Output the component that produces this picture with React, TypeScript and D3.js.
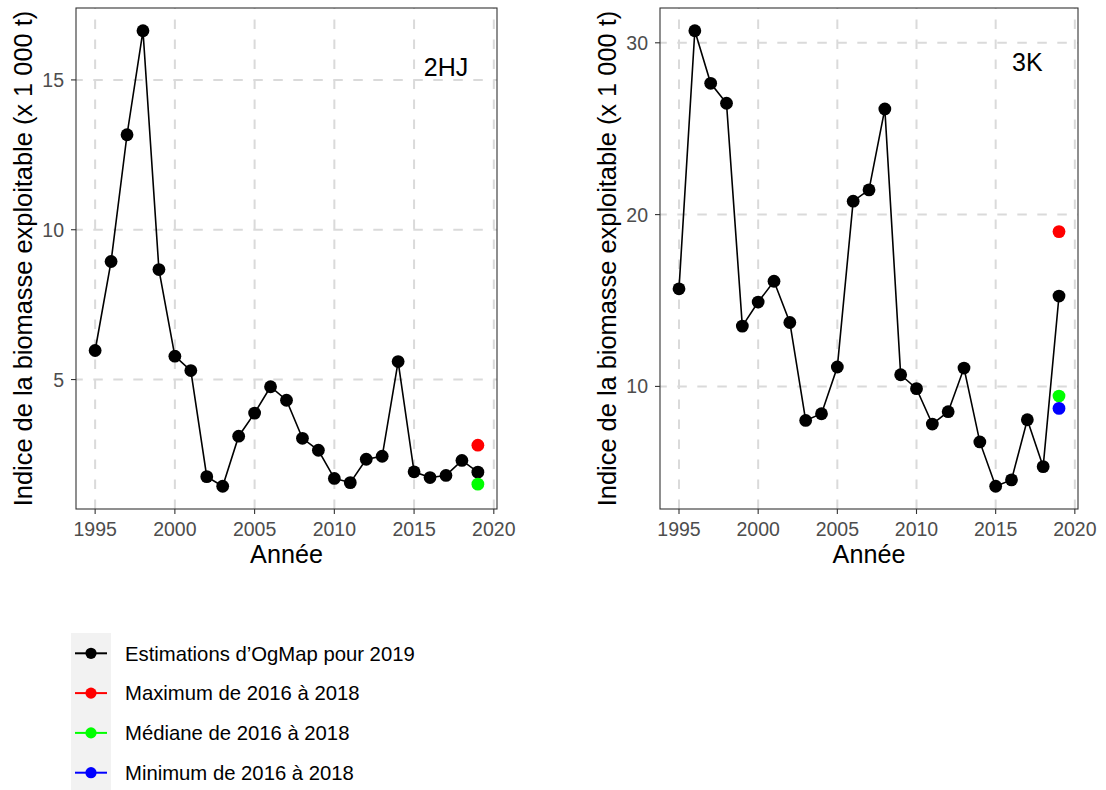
import React from "react";
import * as d3 from "d3";

const years = [1995, 1996, 1997, 1998, 1999, 2000, 2001, 2002, 2003, 2004, 2005, 2006, 2007, 2008, 2009, 2010, 2011, 2012, 2013, 2014, 2015, 2016, 2017, 2018, 2019];

const values2HJ = [5.97, 8.94, 13.17, 16.64, 8.67, 5.78, 5.30, 1.76, 1.44, 3.11, 3.88, 4.76, 4.31, 3.04, 2.64, 1.70, 1.56, 2.34, 2.44, 5.60, 1.92, 1.73, 1.80, 2.30, 1.91];
const values3K = [15.68, 30.70, 27.64, 26.48, 13.51, 14.91, 16.12, 13.72, 8.02, 8.41, 11.13, 20.78, 21.44, 26.15, 10.68, 9.87, 7.81, 8.53, 11.07, 6.77, 4.19, 4.56, 8.06, 5.33, 15.26];

// reference points for 2019: [max, median, min]
const refYear = 2019;
const ref2HJ = [2.81, 1.51, null];
const ref3K = [19.01, 9.44, 8.72];

const refColors = ["#FF0000", "#00FF00", "#0000FF"];
const legendLabels = [
  "Estimations d\u2019OgMap pour 2019",
  "Maximum de 2016 à 2018",
  "Médiane de 2016 à 2018",
  "Minimum de 2016 à 2018",
];
const legendColors = ["#000000", "#FF0000", "#00FF00", "#0000FF"];

const xTicks = [1995, 2000, 2005, 2010, 2015, 2020];
const yTicks2HJ = [5, 10, 15];
const yTicks3K = [10, 20, 30];

const panelLabels = ["2HJ", "3K"];
const labelPos2HJ = { year: 2017, value: 15.43 };
const labelPos3K = { year: 2017, value: 28.9 };

const FONT = "'Liberation Sans', Arial, sans-serif";

function expandDomain(vals: number[]): [number, number] {
  const mn = d3.min(vals) as number;
  const mx = d3.max(vals) as number;
  const e = (mx - mn) * 0.05;
  return [mn - e, mx + e];
}

type PanelProps = {
  left: number;
  right: number;
  top: number;
  bottom: number;
  values: number[];
  refs: (number | null)[];
  yTicks: number[];
  label: string;
  labelPos: { year: number; value: number };
};

function Panel({ left, right, top, bottom, values, refs, yTicks, label, labelPos }: PanelProps) {
  const allVals = values.concat(refs.filter((r) => r !== null) as number[]);
  const x = d3.scaleLinear().domain(expandDomain(years)).range([left, right]);
  const y = d3.scaleLinear().domain(expandDomain(allVals)).range([bottom, top]);
  const line = d3
    .line<number>()
    .x((_, i) => x(years[i]))
    .y((d) => y(d));
  const grid = "#DADADA";
  const axisCol = "#333333";
  const tickText = "#4D4D4D";
  const midY = (top + bottom) / 2;
  const midX = (left + right) / 2;
  return (
    <g>
      <rect x={left} y={top} width={right - left} height={bottom - top} fill="white" />
      {xTicks.map((t) => (
        <line key={"gx" + t} x1={x(t)} x2={x(t)} y1={bottom} y2={top} stroke={grid} strokeWidth={2} strokeDasharray="9.5,10.5" />
      ))}
      {yTicks.map((t) => (
        <line key={"gy" + t} x1={left} x2={right} y1={y(t)} y2={y(t)} stroke={grid} strokeWidth={2} strokeDasharray="9.5,10.5" strokeDashoffset={2.7} />
      ))}
      <path d={line(values) || ""} fill="none" stroke="black" strokeWidth={1.6} />
      {values.map((v, i) => (
        <circle key={"p" + i} cx={x(years[i])} cy={y(v)} r={6.4} fill="black" />
      ))}
      {refs.map((r, i) =>
        r === null ? null : <circle key={"r" + i} cx={x(refYear)} cy={y(r)} r={6.4} fill={refColors[i]} />
      )}
      <text x={x(labelPos.year)} y={y(labelPos.value)} dy="0.36em" textAnchor="middle" fontFamily={FONT} fontSize={25} fill="black">
        {label}
      </text>
      <rect x={left} y={top} width={right - left} height={bottom - top} fill="none" stroke={axisCol} strokeWidth={1.1} />
      {xTicks.map((t) => (
        <g key={"tx" + t}>
          <line x1={x(t)} x2={x(t)} y1={bottom} y2={bottom + 5} stroke={axisCol} strokeWidth={1.1} />
          <text x={x(t)} y={bottom + 27} textAnchor="middle" fontFamily={FONT} fontSize={19.5} fill={tickText}>
            {t}
          </text>
        </g>
      ))}
      {yTicks.map((t) => (
        <g key={"ty" + t}>
          <line x1={left - 5} x2={left} y1={y(t)} y2={y(t)} stroke={axisCol} strokeWidth={1.1} />
          <text x={left - 12} y={y(t)} dy="0.36em" textAnchor="end" fontFamily={FONT} fontSize={19.5} fill={tickText}>
            {t}
          </text>
        </g>
      ))}
      <text x={midX} y={bottom + 54} textAnchor="middle" fontFamily={FONT} fontSize={25.2} fill="black">
        Année
      </text>
      <text
        transform={`translate(${left - 44},${midY}) rotate(-90)`}
        textAnchor="middle"
        fontFamily={FONT}
        fontSize={25.4}
        fill="black"
      >
        Indice de la biomasse exploitable (x 1 000 t)
      </text>
    </g>
  );
}

export default function App() {
  const legendTop = 633;
  const rowH = 39.8;
  const firstRow = 653.3;
  return (
    <svg
      width={1106}
      height={790}
      style={{ position: "fixed", left: 0, top: 0, background: "white" }}
    >
      <rect x={0} y={0} width={1106} height={790} fill="white" />
      <Panel left={76} right={497} top={8} bottom={509} values={values2HJ} refs={ref2HJ} yTicks={yTicks2HJ} label={panelLabels[0]} labelPos={labelPos2HJ} />
      <Panel left={660} right={1078} top={8} bottom={509} values={values3K} refs={ref3K} yTicks={yTicks3K} label={panelLabels[1]} labelPos={labelPos3K} />
      <rect x={71} y={legendTop} width={40} height={200} fill="#F2F2F2" />
      {legendLabels.map((lab, i) => {
        const cy = firstRow + i * rowH;
        return (
          <g key={"lg" + i}>
            <line x1={75} x2={107} y1={cy} y2={cy} stroke={legendColors[i]} strokeWidth={2} />
            <circle cx={91} cy={cy} r={5.6} fill={legendColors[i]} />
            <text x={125} y={cy} dy="0.36em" fontFamily={FONT} fontSize={20.3} fill="black">
              {lab}
            </text>
          </g>
        );
      })}
    </svg>
  );
}
